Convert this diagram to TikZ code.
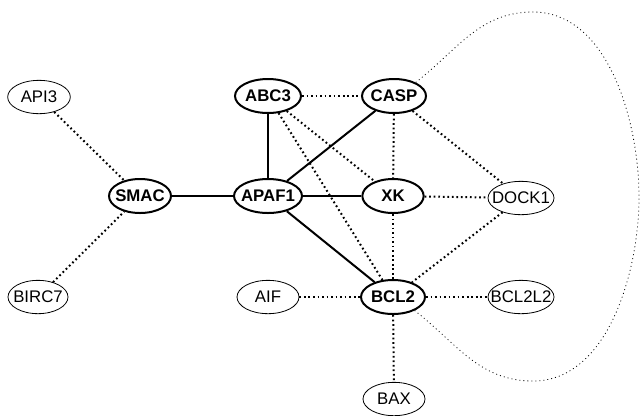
\documentclass[tikz,border=0pt]{standalone}
\usepackage{fontspec}
\setmainfont{Liberation Sans}
\usetikzlibrary{shapes.geometric}
\begin{document}
\begin{tikzpicture}[x=0.75pt,y=-0.75pt,
  gnode/.style={ellipse, draw, inner sep=0pt, minimum height=25pt},
  weaknode/.style={gnode, line width=0.6pt, font=\fontsize{12.6}{14}\selectfont},
  strongnode/.style={gnode, line width=1.5pt, minimum height=25.5pt, font=\fontsize{12.6}{14}\selectfont\bfseries},
  solidedge/.style={line width=1.5pt},
  dotedge/.style={line width=1.5pt, dash pattern=on 1.3pt off 2.1pt},
  faintedge/.style={line width=0.6pt, dash pattern=on 0.7pt off 2.3pt}
]
\useasboundingbox (0,0) rectangle (641,415);

\node[weaknode, minimum width=47pt]   (API3)   at (39,97)   {\makebox[0pt]{API3}};
\node[strongnode, minimum width=49.5pt] (ABC3) at (268,96)  {\makebox[0pt]{ABC3}};
\node[strongnode, minimum width=48pt] (CASP)   at (394,96)  {\makebox[0pt]{CASP}};
\node[strongnode, minimum width=46.5pt] (SMAC) at (140,196) {\makebox[0pt]{SMAC}};
\node[strongnode, minimum width=51pt] (APAF1)  at (268,196) {\makebox[0pt]{APAF1}};
\node[strongnode, minimum width=46pt] (XK)     at (393,196) {\makebox[0pt]{XK}};
\node[weaknode, minimum width=49.5pt] (DOCK1)  at (521,198) {\makebox[0pt]{DOCK1}};
\node[weaknode, minimum width=45pt]   (BIRC7)  at (38,297)  {\makebox[0pt]{BIRC7}};
\node[weaknode, minimum width=46.5pt] (AIF)    at (268,297) {\makebox[0pt]{AIF}};
\node[strongnode, minimum width=48pt] (BCL2)   at (393,297) {\makebox[0pt]{BCL2}};
\node[weaknode, minimum width=49.5pt] (BCL2L2) at (521,297) {\makebox[0pt]{BCL2L2}};
\node[weaknode, minimum width=46.5pt] (BAX)    at (394,399) {\makebox[0pt]{BAX}};

\coordinate (looptop) at (533,12);
\coordinate (loop)    at (639,197);
\coordinate (loopbot) at (533,381);

\draw[solidedge] (SMAC) -- (APAF1);
\draw[solidedge] (ABC3) -- (APAF1);
\draw[solidedge] (APAF1) -- (CASP);
\draw[solidedge] (APAF1) -- (XK);
\draw[solidedge] (APAF1) -- (BCL2);

\draw[dotedge] (API3) -- (SMAC);
\draw[dotedge] (BIRC7) -- (SMAC);
\draw[dotedge] (ABC3) -- (CASP);
\draw[dotedge] (ABC3) -- (XK);
\draw[dotedge] (ABC3) -- (BCL2);
\draw[dotedge] (CASP) -- (XK);
\draw[dotedge] (CASP) -- (DOCK1);
\draw[dotedge] (XK) -- (DOCK1);
\draw[dotedge] (XK) -- (BCL2);
\draw[dotedge] (DOCK1) -- (BCL2);
\draw[dotedge] (AIF) -- (BCL2);
\draw[dotedge] (BCL2) -- (BCL2L2);
\draw[dotedge] (BCL2) -- (BAX);

\draw[faintedge] (CASP.32) to[out=38,in=180] (looptop)
  to[out=0,in=90,looseness=0.9] (loop)
  to[out=-90,in=0,looseness=0.9] (loopbot)
  to[out=180,in=-38] (BCL2.-32);
\end{tikzpicture}
\end{document}
